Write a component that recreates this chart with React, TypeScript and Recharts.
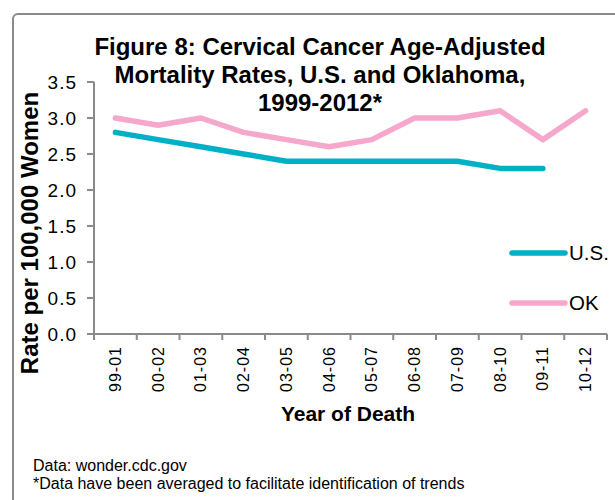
import React from 'react';
import { LineChart, Line, XAxis, YAxis, Legend } from 'recharts';

const categories = ['99-01', '00-02', '01-03', '02-04', '03-05', '04-06', '05-07', '06-08', '07-09', '08-10', '09-11', '10-12'];
const usValues: (number | null)[] = [2.8, 2.7, 2.6, 2.5, 2.4, 2.4, 2.4, 2.4, 2.4, 2.3, 2.3, null];
const okValues: (number | null)[] = [3.0, 2.9, 3.0, 2.8, 2.7, 2.6, 2.7, 3.0, 3.0, 3.1, 2.7, 3.1];
const yTicks = [0, 0.5, 1.0, 1.5, 2.0, 2.5, 3.0, 3.5];
const titleLines = ['Figure 8: Cervical Cancer Age-Adjusted', 'Mortality Rates, U.S. and Oklahoma,', '1999-2012*'];
const footerLines = ['Data: wonder.cdc.gov', '*Data have been averaged to facilitate identification of trends'];
const series = [
  { key: 'us', name: 'U.S.', color: '#00B0C6' },
  { key: 'ok', name: 'OK', color: '#F5A8CB' },
];

const data = categories.map((c, i) => ({ cat: c, us: usValues[i], ok: okValues[i] }));

const FONT = '"Liberation Sans", Arial, sans-serif';
const AXIS = '#8a8a8a';

const XTick = (props: any) => {
  const { x, y, payload, index, width, visibleTicksCount } = props;
  const bw = width && visibleTicksCount ? width / visibleTicksCount : 42.75;
  const axisY = y - 12;
  return (
    <g>
      <line x1={x - bw / 2} x2={x - bw / 2} y1={axisY} y2={axisY + 6} stroke={AXIS} strokeWidth={2} />
      {index === visibleTicksCount - 1 && (
        <line x1={x + bw / 2} x2={x + bw / 2} y1={axisY} y2={axisY + 6} stroke={AXIS} strokeWidth={2} />
      )}
      <text
        x={x}
        y={y}
        transform={`rotate(-90, ${x}, ${y})`}
        textAnchor="end"
        dominantBaseline="central"
        fontSize={16}
        letterSpacing={1}
        fill="#000"
        fontFamily={FONT}
      >
        {payload.value}
      </text>
    </g>
  );
};

const LegendContent = () => (
  <svg width={110} height={90} style={{ overflow: 'visible' }}>
    {series.map((s, i) => (
      <g key={s.key}>
        <line x1={7} x2={60} y1={18 + i * 50} y2={18 + i * 50} stroke={s.color} strokeWidth={5.5} strokeLinecap="round" />
        <text x={64} y={25 + i * 50} fontSize={20.5} fill="#000" fontFamily={FONT}>
          {s.name}
        </text>
      </g>
    ))}
  </svg>
);

export default function App() {
  return (
    <div style={{ position: 'absolute', left: 0, top: 0, width: 615, height: 500, overflow: 'hidden', background: '#fff' }}>
      <div
        style={{
          position: 'absolute',
          left: 12,
          top: 13,
          width: 640,
          height: 540,
          border: `2px solid ${AXIS}`,
          borderRadius: 6,
          boxSizing: 'border-box',
        }}
      />
      <div style={{ position: 'absolute', left: 0, top: 0 }}>
        <LineChart width={615} height={500} data={data} margin={{ top: 82, right: 8, left: 34, bottom: 86 }}>
          <XAxis
            dataKey="cat"
            scale="band"
            height={80}
            interval={0}
            tickSize={6}
            tickMargin={6}
            tickLine={false}
            axisLine={{ stroke: AXIS, strokeWidth: 2 }}
            tick={<XTick />}
          />
          <YAxis
            width={60}
            domain={[0, 3.5]}
            ticks={yTicks}
            tickFormatter={(v: number) => v.toFixed(1)}
            tickSize={7}
            tickMargin={10}
            axisLine={{ stroke: AXIS, strokeWidth: 2 }}
            tickLine={{ stroke: AXIS, strokeWidth: 2 }}
            tick={{ fontSize: 19, fill: '#000', fontFamily: FONT, letterSpacing: 1 }}
            interval={0}
          />
          <Legend
            layout="vertical"
            align="center"
            verticalAlign="middle"
            content={<LegendContent />}
            wrapperStyle={{ position: 'absolute', left: 505, top: 235, width: 110, height: 90 }}
          />
          {series.map((s) => (
            <Line
              key={s.key}
              type="linear"
              dataKey={s.key}
              name={s.name}
              stroke={s.color}
              strokeWidth={5.5}
              strokeLinecap="round"
              strokeLinejoin="round"
              dot={false}
              activeDot={false}
              isAnimationActive={false}
            />
          ))}
        </LineChart>
      </div>
      <svg width={615} height={500} style={{ position: 'absolute', left: 0, top: 0, pointerEvents: 'none' }}>
        {titleLines.map((t, i) => (
          <text key={i} x={320} y={55 + i * 28} textAnchor="middle" fontSize={24} fontWeight="bold" fill="#000" fontFamily={FONT}>
            {t}
          </text>
        ))}
        <text
          x={38}
          y={233}
          transform="rotate(-90, 38, 233)"
          textAnchor="middle"
          fontSize={24}
          fontWeight="bold"
          fill="#000"
          fontFamily={FONT}
        >
          Rate per 100,000 Women
        </text>
        <text x={348} y={421} textAnchor="middle" fontSize={21} fontWeight="bold" fill="#000" fontFamily={FONT}>
          Year of Death
        </text>
        {footerLines.map((t, i) => (
          <text key={i} x={33} y={471 + i * 18} fontSize={16} fill="#000" fontFamily={FONT}>
            {t}
          </text>
        ))}
      </svg>
    </div>
  );
}
